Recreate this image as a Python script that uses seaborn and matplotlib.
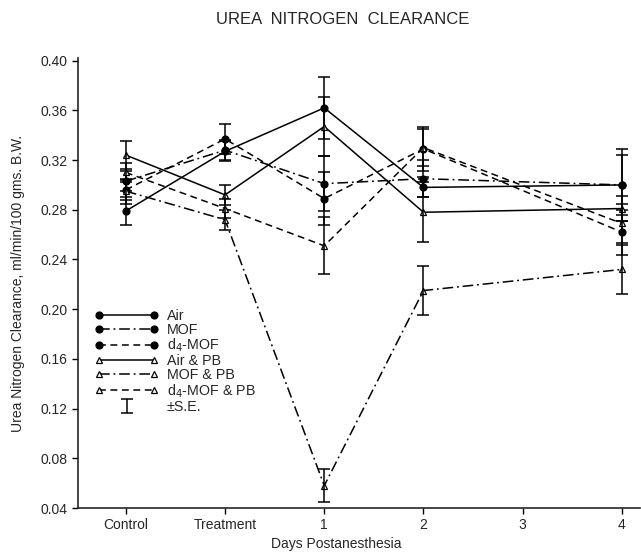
import numpy as np
import pandas as pd
import matplotlib
matplotlib.use("Agg")
import matplotlib.pyplot as plt
from matplotlib.legend_handler import HandlerErrorbar
import seaborn as sns

# x categories
periods = ["Control", "Treatment", "1", "2", "3", "4"]
xpos = [0, 1, 2, 3, 5]   # no measurement on day 3

# mean clearance per group (ml/min/100 gms B.W.)
air = [0.279, 0.327, 0.362, 0.298, 0.300]
mof = [0.303, 0.328, 0.301, 0.305, 0.300]
d4_mof = [0.296, 0.337, 0.289, 0.329, 0.262]
air_pb = [0.324, 0.292, 0.347, 0.278, 0.281]
mof_pb = [0.295, 0.272, 0.058, 0.215, 0.232]
d4_mof_pb = [0.310, 0.281, 0.251, 0.330, 0.269]

# standard errors
se_air = [0.011, 0.008, 0.025, 0.008, 0.029]
se_mof = [0.008, 0.008, 0.022, 0.015, 0.024]
se_d4_mof = [0.008, 0.012, 0.021, 0.018, 0.018]
se_air_pb = [0.011, 0.008, 0.024, 0.024, 0.010]
se_mof_pb = [0.010, 0.008, 0.013, 0.020, 0.020]
se_d4_mof_pb = [0.008, 0.008, 0.023, 0.015, 0.016]

groups = [
    ("Air", air, se_air, "-", "o", "black"),
    ("MOF", mof, se_mof, (0, (7, 2.5, 1.2, 2.5)), "o", "black"),
    ("d$_4$-MOF", d4_mof, se_d4_mof, (0, (4.5, 3)), "o", "black"),
    ("Air & PB", air_pb, se_air_pb, "-", "^", "white"),
    ("MOF & PB", mof_pb, se_mof_pb, (0, (7, 2.5, 1.2, 2.5)), "^", "white"),
    ("d$_4$-MOF & PB", d4_mof_pb, se_d4_mof_pb, (0, (4.5, 3)), "^", "white"),
]

sns.set_style("ticks")
plt.rcParams["font.family"] = ["Liberation Sans", "DejaVu Sans"]

fig = plt.figure(figsize=(6.41, 5.54), dpi=100)
ax = fig.add_axes([0.122, 0.083, 0.876, 0.812])

for name, vals, se, ls, mk, fc in groups:
    df = pd.DataFrame({"x": xpos, "y": vals})
    sns.lineplot(data=df, x="x", y="y", ax=ax, color="black", lw=1.1,
                 linestyle=ls, marker=mk, markersize=5, markerfacecolor=fc,
                 markeredgecolor="black", markeredgewidth=0.9, sort=False,
                 label=name)
    ax.errorbar(xpos, vals, yerr=se, fmt="none", ecolor="black",
                elinewidth=1.1, capsize=4, capthick=1.1)

eb = ax.errorbar([np.nan], [np.nan], yerr=[np.nan], fmt="none", ecolor="black",
                 elinewidth=1.1, capsize=4, capthick=1.1, label="±S.E.")

ax.set_xlim(-0.48, 5.18)
ax.set_ylim(0.04, 0.402)
ax.set_yticks(np.arange(0.04, 0.401, 0.04))
ax.set_yticklabels([f"{v:.2f}" for v in np.arange(0.04, 0.401, 0.04)])
ax.set_xticks(range(6))
ax.set_xticklabels(periods)
ax.tick_params(axis="both", labelsize=10, length=4, width=1, color="black")
ax.spines["right"].set_visible(False)
ax.spines["top"].set_visible(False)
ax.spines["left"].set_linewidth(1.2)
ax.spines["bottom"].set_linewidth(1.2)

ax.set_xlabel("Days Postanesthesia", fontsize=10)
ax.xaxis.set_label_coords(0.46, -0.065)
ax.set_ylabel("Urea Nitrogen Clearance, ml/min/100 gms. B.W.", fontsize=10)
ax.yaxis.set_label_coords(-0.095, 0.5)

fig.text(0.535, 0.965, "UREA  NITROGEN  CLEARANCE", ha="center", va="center",
         fontsize=12)

handles, labels = ax.get_legend_handles_labels()
leg = ax.legend(handles, labels, loc="upper left", bbox_to_anchor=(0.02, 0.455),
                frameon=False, numpoints=2, handlelength=4.4, fontsize=10.3,
                labelspacing=0.0, handletextpad=0.6, borderaxespad=0,
                handler_map={eb: HandlerErrorbar(numpoints=1)})

fig.savefig("out.png", dpi=100)
